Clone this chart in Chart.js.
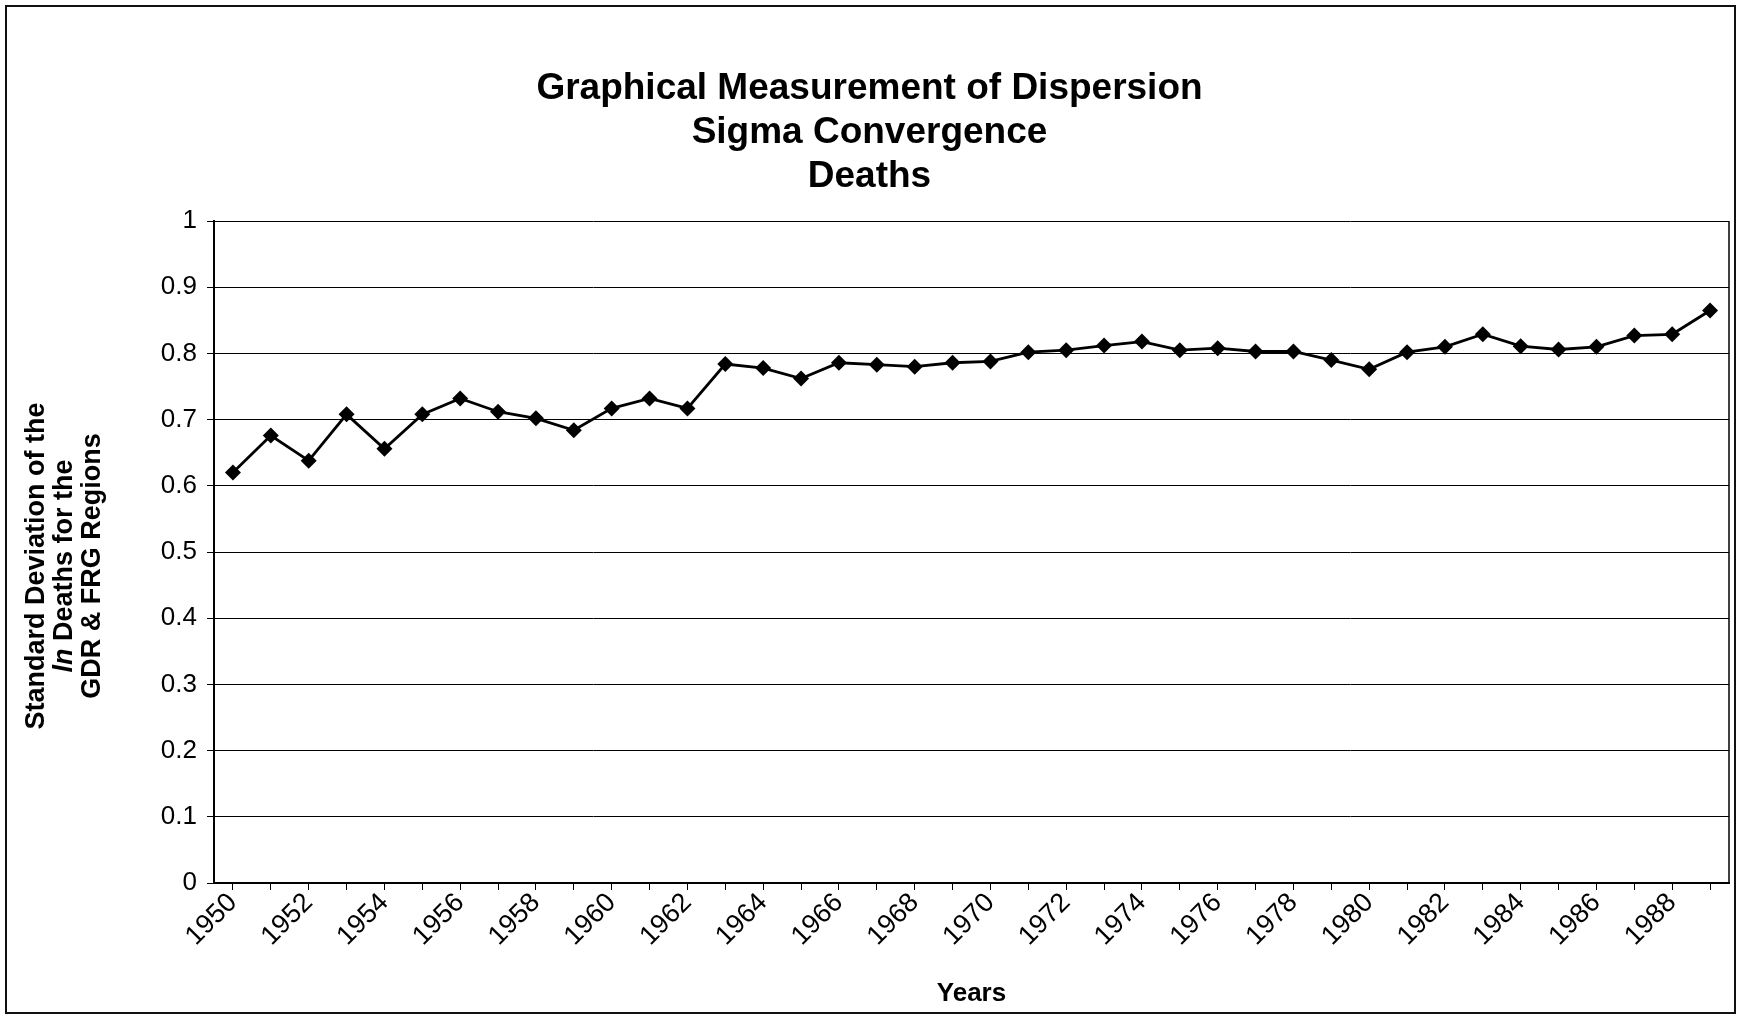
<!DOCTYPE html>
<html><head><meta charset="utf-8">
<script src="https://cdn.jsdelivr.net/npm/chart.js@4.4.1/dist/chart.umd.min.js"></script>
<style>
html,body{margin:0;padding:0;background:#fff;}
#wrap{position:relative;width:1739px;height:1019px;overflow:hidden;}
#frame{position:absolute;left:5px;top:5px;width:1731px;height:1009px;border:2px solid #111;box-sizing:border-box;pointer-events:none;}
</style></head><body>
<div id="wrap"><canvas id="c" width="1739" height="1019"></canvas><div id="frame"></div></div>
<script>
const years = ['1950','1951','1952','1953','1954','1955','1956','1957','1958','1959',
  '1960','1961','1962','1963','1964','1965','1966','1967','1968','1969',
  '1970','1971','1972','1973','1974','1975','1976','1977','1978','1979',
  '1980','1981','1982','1983','1984','1985','1986','1987','1988','1989'];
const sigmaDeaths = [0.620,0.676,0.638,0.708,0.656,0.708,0.732,0.712,0.702,0.684,
  0.717,0.732,0.717,0.784,0.778,0.762,0.786,0.783,0.780,0.786,
  0.788,0.802,0.805,0.812,0.818,0.805,0.808,0.803,0.803,0.790,
  0.776,0.802,0.810,0.829,0.811,0.806,0.810,0.827,0.829,0.865];
const shownYearLabels = ['1950','1952','1954','1956','1958','1960','1962','1964','1966','1968',
  '1970','1972','1974','1976','1978','1980','1982','1984','1986','1988'];
const yTicks = [0,0.1,0.2,0.3,0.4,0.5,0.6,0.7,0.8,0.9,1];
const titleLines = ['Graphical Measurement of Dispersion','Sigma Convergence','Deaths'];
const xTitle = 'Years';
const yTitleLine1 = 'Standard Deviation of the';
const yTitleLine2Italic = 'ln';
const yTitleLine2Rest = ' Deaths for the';
const yTitleLine3 = 'GDR & FRG Regions';

const FONT = "'Liberation Sans', Arial, sans-serif";

const yTitlePlugin = {
  id: 'yTitle',
  afterDraw(chart) {
    const ctx = chart.ctx;
    const cy = (chart.chartArea.top + chart.chartArea.bottom) / 2 + 14;
    const xs = [37, 65, 93];
    ctx.save();
    ctx.fillStyle = '#000';
    ctx.textBaseline = 'middle';
    const bold = 'bold 27px ' + FONT;
    const ital = 'italic bold 27px ' + FONT;
    ctx.save(); ctx.translate(xs[0], cy); ctx.rotate(-Math.PI/2);
    ctx.font = bold; ctx.textAlign = 'center'; ctx.fillText(yTitleLine1, 0, 0); ctx.restore();
    ctx.save(); ctx.translate(xs[1], cy); ctx.rotate(-Math.PI/2);
    ctx.font = ital; const w1 = ctx.measureText(yTitleLine2Italic).width;
    ctx.font = bold; const w2 = ctx.measureText(yTitleLine2Rest).width;
    const start = -(w1 + w2) / 2;
    ctx.textAlign = 'left';
    ctx.font = ital; ctx.fillText(yTitleLine2Italic, start, 0);
    ctx.font = bold; ctx.fillText(yTitleLine2Rest, start + w1, 0);
    ctx.restore();
    ctx.save(); ctx.translate(xs[2], cy); ctx.rotate(-Math.PI/2);
    ctx.font = bold; ctx.textAlign = 'center'; ctx.fillText(yTitleLine3, 0, 0); ctx.restore();
    ctx.restore();
  }
};

const plotRightBorder = {
  id: 'plotRight',
  afterDraw(chart) {
    const {ctx, chartArea} = chart;
    ctx.save();
    ctx.strokeStyle = '#000';
    ctx.lineWidth = 1.5;
    ctx.beginPath();
    ctx.moveTo(chartArea.right, chartArea.top);
    ctx.lineTo(chartArea.right, chartArea.bottom);
    ctx.stroke();
    ctx.restore();
  }
};

new Chart(document.getElementById('c'), {
  type: 'line',
  data: {
    labels: years,
    datasets: [{
      label: 'Sigma convergence (deaths)',
      data: sigmaDeaths,
      borderColor: '#000',
      backgroundColor: '#000',
      borderWidth: 2.8,
      pointStyle: 'rectRot',
      pointRadius: 8,
      pointBackgroundColor: '#000',
      pointBorderColor: '#000',
      pointBorderWidth: 0,
      tension: 0,
      fill: false
    }]
  },
  options: {
    responsive: false,
    animation: false,
    devicePixelRatio: 1,
    layout: { padding: { left: 10, right: 10, top: 0, bottom: 0 } },
    plugins: {
      legend: { display: false },
      tooltip: { enabled: false },
      title: {
        display: true,
        text: titleLines,
        color: '#000',
        font: { family: FONT, size: 37, weight: 'bold', lineHeight: 1.19 },
        padding: { top: 67, bottom: 22 }
      }
    },
    scales: {
      x: {
        type: 'category',
        offset: true,
        afterFit(scale) { scale.height = 136; },
        grid: { display: true, drawOnChartArea: false, drawTicks: true, tickLength: 7, color: '#000', lineWidth: 1 },
        border: { display: true, color: '#000', width: 2 },
        ticks: {
          autoSkip: false, maxRotation: 45, minRotation: 45, padding: -3,
          color: '#000',
          font: { family: FONT, size: 27 },
          callback(value, index) { return shownYearLabels.includes(years[index]) ? years[index] : ''; }
        },
        title: { display: true, text: xTitle, color: '#000', font: { family: FONT, size: 26, weight: 'bold' }, padding: { top: 0, bottom: 10 } }
      },
      y: {
        min: 0, max: 1,
        afterFit(scale) { scale.width = 204; },
        afterBuildTicks(scale) { scale.ticks = yTicks.map(v => ({ value: v })); },
        grid: { color: '#000', lineWidth: 1, drawTicks: true, tickLength: 7 },
        border: { display: true, color: '#000', width: 2 },
        ticks: {
          color: '#000', padding: 10,
          font: { family: FONT, size: 26 },
          callback(value) { return String(Math.round(value * 10) / 10); }
        }
      }
    }
  },
  plugins: [yTitlePlugin, plotRightBorder]
});
</script>
</body></html>
